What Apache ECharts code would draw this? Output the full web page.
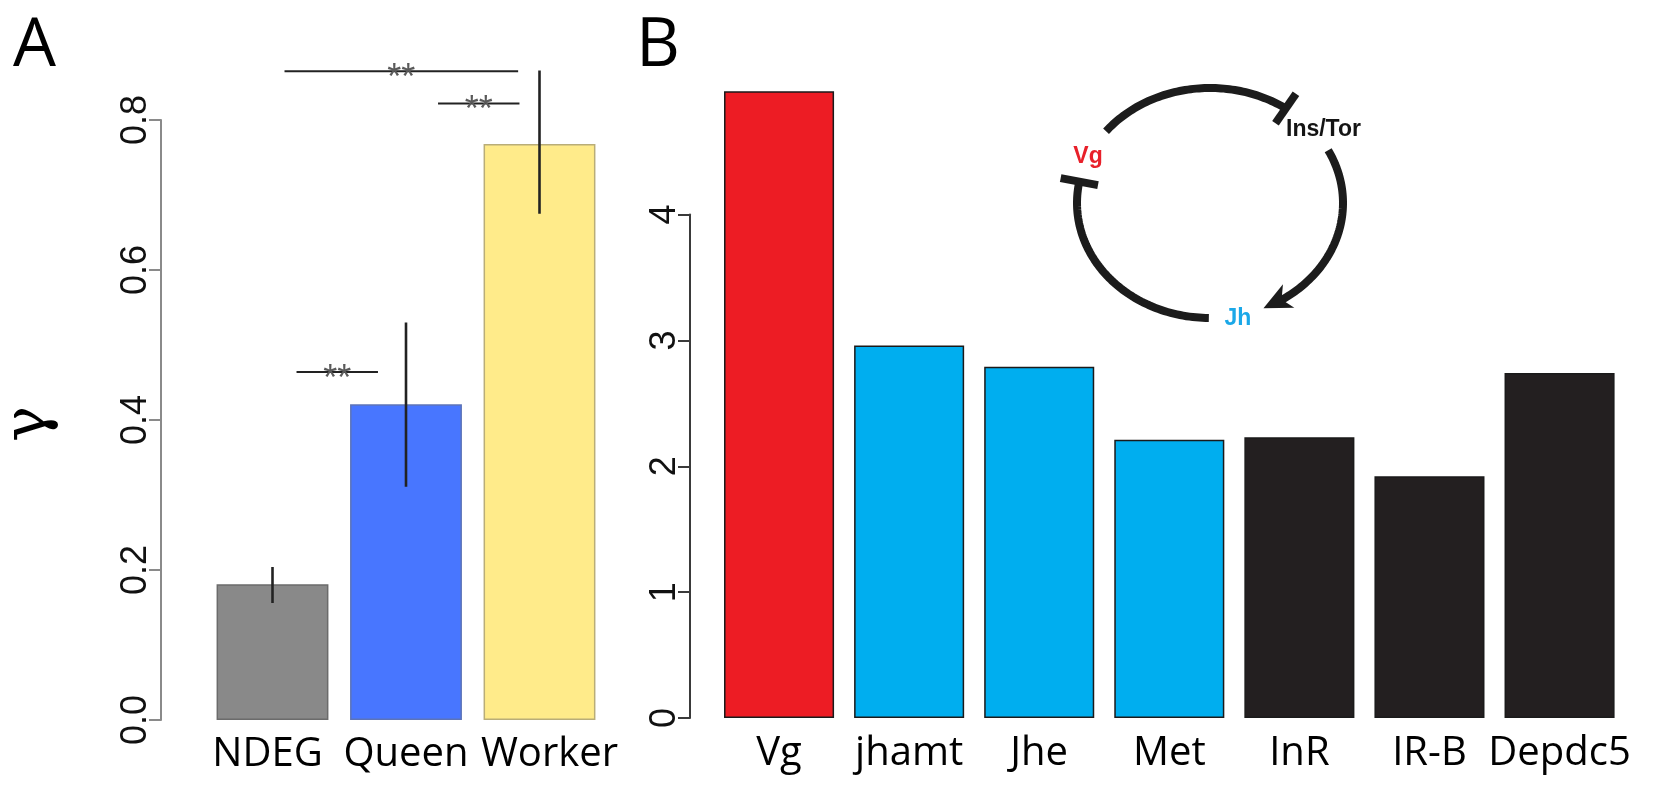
<!DOCTYPE html>
<html>
<head>
<meta charset="utf-8">
<script src="https://cdn.jsdelivr.net/npm/echarts@6/dist/echarts.min.js"></script>
<style>
  html, body { margin: 0; padding: 0; background: #ffffff; }
  #chart { width: 1656px; height: 785px; }
</style>
</head>
<body>
<div id="chart"></div>
<script>
// ---- Panel A: gamma per gene class ----
const groupNames = ['NDEG', 'Queen', 'Worker'];
const gammaMean = [0.181, 0.421, 0.768];
const gammaLow = [0.156, 0.311, 0.675];
const gammaHigh = [0.204, 0.530, 0.866];
const gammaTicks = [0, 0.2, 0.4, 0.6, 0.8];

// pairwise comparisons (span in category units, height on the gamma scale)
const sigFrom = [0.09, 1.24, 0.18];
const sigTo = [1.84, 1.85, 0.79];
const sigLevel = [0.865, 0.822, 0.464];
const sigMark = ['**', '**', '**'];

// ---- Panel B: per-gene values ----
const geneNames = ['Vg', 'jhamt', 'Jhe', 'Met', 'InR', 'IR-B', 'Depdc5'];
const geneValues = [4.98, 2.96, 2.79, 2.21, 2.23, 1.92, 2.74];
const genePathway = ['Vg', 'Jh', 'Jh', 'Jh', 'Ins/Tor', 'Ins/Tor', 'Ins/Tor'];
const geneTicks = [0, 1, 2, 3, 4];

const groupFill = { NDEG: '#898989', Queen: '#4876FF', Worker: '#FFEB8A' };
const groupEdge = { NDEG: '#6b6b6b', Queen: '#5d74b8', Worker: '#b9ad78' };
const pathwayFill = { 'Vg': '#ED1C24', 'Jh': '#00AEEF', 'Ins/Tor': '#231F20' };
const INK = '#1c1c1c';

const LABEL_FONT = "'Open Sans', 'Noto Sans', sans-serif";
const TICK_FONT = "'Liberation Sans', Arial, sans-serif";

// ---- regulatory loop sketch (Vg -| Ins/Tor -> Jh -| Vg) ----
const CX = 1210, CY = 203, RX = 133, RY = 115;
function ringPoint(deg) {
  const t = deg * Math.PI / 180;
  return [CX + RX * Math.cos(t), CY - RY * Math.sin(t)];
}
function ringArc(a0, a1) {
  const pts = [];
  const n = 72;
  for (let i = 0; i <= n; i++) pts.push(ringPoint(a0 + (a1 - a0) * i / n));
  return { type: 'polyline', shape: { points: pts },
           style: { stroke: INK, lineWidth: 8, fill: null, lineCap: 'butt', lineJoin: 'round' } };
}
function ringBar(deg, len) {
  const p = ringPoint(deg), t = deg * Math.PI / 180;
  const ux = Math.cos(t), uy = -Math.sin(t);
  return { type: 'line',
           shape: { x1: p[0] - ux * len / 2, y1: p[1] - uy * len / 2,
                    x2: p[0] + ux * len / 2, y2: p[1] + uy * len / 2 },
           style: { stroke: INK, lineWidth: 8, lineCap: 'butt' } };
}
function ringArrow(tipDeg, backDeg, len, half) {
  const tip = ringPoint(tipDeg), back = ringPoint(backDeg);
  let dx = tip[0] - back[0], dy = tip[1] - back[1];
  const d = Math.hypot(dx, dy); dx /= d; dy /= d;
  const nx = -dy, ny = dx;
  const bx = tip[0] - dx * len, by = tip[1] - dy * len;
  const notch = [tip[0] - dx * len * 0.72, tip[1] - dy * len * 0.72];
  return { type: 'polygon',
           shape: { points: [tip, [bx + nx * half, by + ny * half], notch, [bx - nx * half, by - ny * half]] },
           style: { fill: INK } };
}

const NODE_FONT = "bold 23px 'Liberation Sans', Arial, sans-serif";
const loopGraphics = [
  ringArc(141.4, 55.3), ringBar(55.3, 36),
  ringArc(27.3, -60), ringArrow(-66.3, -55, 28, 13),
  ringArc(-90.5, -190.7), ringBar(-190.7, 38),
  { type: 'text', x: 1088, y: 157,
    style: { text: 'Vg', fill: '#E8202A', font: NODE_FONT, align: 'center', verticalAlign: 'middle' } },
  { type: 'text', x: 1286, y: 130,
    style: { text: 'Ins/Tor', fill: '#141414', font: NODE_FONT, align: 'left', verticalAlign: 'middle' } },
  { type: 'text', x: 1238, y: 319,
    style: { text: 'Jh', fill: '#1BA8E8', font: NODE_FONT, align: 'center', verticalAlign: 'middle' } }
];

const chart = echarts.init(document.getElementById('chart'), null, { renderer: 'canvas' });

function tickAxis(ticks, extra) {
  return Object.assign({
    type: 'value',
    min: ticks[0],
    max: ticks[ticks.length - 1],
    interval: ticks[1] - ticks[0],
    splitLine: { show: false }
  }, extra);
}

const option = {
  animation: false,
  backgroundColor: '#ffffff',
  grid: [
    { left: 205.75, width: 400.5, top: 120, height: 600, outerBoundsMode: 'none' },
    { left: 714, width: 910.6, top: 214.5, height: 503.5, outerBoundsMode: 'none' }
  ],
  xAxis: [
    { gridIndex: 0, type: 'category', data: groupNames,
      axisLine: { show: false }, axisTick: { show: false },
      axisLabel: {
        interval: 0, margin: 15, fontSize: 40, fontFamily: LABEL_FONT, color: '#000',
        // the outer labels sit a little away from their neighbours
        formatter: (v, i) => i === 0 ? '{lead|' + v + '}' : i === 2 ? '{trail|' + v + '}' : v,
        rich: {
          lead: { fontSize: 40, fontFamily: LABEL_FONT, color: '#000', padding: [0, 10, 0, 0] },
          trail: { fontSize: 40, fontFamily: LABEL_FONT, color: '#000', padding: [0, 0, 0, 20] }
        }
      } },
    { gridIndex: 1, type: 'category', data: geneNames,
      axisLine: { show: false }, axisTick: { show: false },
      axisLabel: { interval: 0, margin: 16, fontSize: 40, fontFamily: LABEL_FONT, color: '#000' } }
  ],
  yAxis: [
    tickAxis(gammaTicks, {
      gridIndex: 0, offset: 44.75,
      axisLine: { show: true, lineStyle: { color: '#8a8a8a', width: 2 } },
      axisTick: { show: true, length: 12, lineStyle: { color: '#8a8a8a', width: 2 } },
      axisLabel: { rotate: 90, margin: 7, fontSize: 36, fontFamily: TICK_FONT, color: '#111',
                   showMinLabel: true, showMaxLabel: true,
                   formatter: v => v.toFixed(1) }
    }),
    tickAxis(geneTicks, {
      gridIndex: 1, offset: 24,
      axisLine: { show: true, lineStyle: { color: '#3a3a3a', width: 2 } },
      axisTick: { show: true, length: 12, lineStyle: { color: '#3a3a3a', width: 2 } },
      axisLabel: { rotate: 90, margin: 7, fontSize: 36, fontFamily: TICK_FONT, color: '#111',
                   showMinLabel: true, showMaxLabel: true }
    })
  ],
  series: [
    {
      type: 'bar', xAxisIndex: 0, yAxisIndex: 0, z: 2,
      barCategoryGap: '16.2%',
      data: gammaMean.map((v, i) => ({
        value: v,
        itemStyle: { color: groupFill[groupNames[i]], borderColor: groupEdge[groupNames[i]], borderWidth: 1.5 }
      }))
    },
    {
      type: 'custom', xAxisIndex: 0, yAxisIndex: 0, clip: false, z: 6,
      data: gammaLow.map((lo, i) => [i, lo, gammaHigh[i]]),
      encode: { x: 0, y: [1, 2] },
      renderItem: (params, api) => {
        const a = api.coord([api.value(0), api.value(1)]);
        const b = api.coord([api.value(0), api.value(2)]);
        return { type: 'line', shape: { x1: a[0], y1: a[1], x2: b[0], y2: b[1] },
                 style: { stroke: '#222', lineWidth: 2.6 } };
      }
    },
    {
      type: 'custom', xAxisIndex: 0, yAxisIndex: 0, clip: false, z: 6,
      data: sigLevel.map((y, i) => [0, sigFrom[i], sigTo[i], y]),
      encode: { x: 0, y: 3 },
      renderItem: (params, api) => {
        const y = api.value(3);
        const p0 = api.coord([0, y]);
        const p1 = api.coord([1, y]);
        const step = p1[0] - p0[0];
        const x0 = p0[0] + api.value(1) * step;
        const x1 = p0[0] + api.value(2) * step;
        return {
          type: 'group',
          children: [
            { type: 'line', shape: { x1: x0, y1: p0[1], x2: x1, y2: p0[1] },
              style: { stroke: '#222', lineWidth: 2 } },
            { type: 'text', x: (x0 + x1) / 2, y: p0[1] + 8,
              style: { text: sigMark[params.dataIndex], fill: '#5a5a5a',
                       font: "36px 'Liberation Sans', Arial, sans-serif",
                       align: 'center', verticalAlign: 'middle' } }
          ]
        };
      }
    },
    {
      type: 'bar', xAxisIndex: 1, yAxisIndex: 1, clip: false,
      barCategoryGap: '15.4%',
      data: geneValues.map((v, i) => ({
        value: v,
        itemStyle: { color: pathwayFill[genePathway[i]], borderColor: '#1a1a1a', borderWidth: 1.5 }
      }))
    }
  ],
  graphic: [
    { type: 'text', x: 13, y: 47,
      style: { text: 'A', fill: '#000', font: "68px 'Open Sans', sans-serif", align: 'left', verticalAlign: 'middle' } },
    { type: 'text', x: 636, y: 47,
      style: { text: 'B', fill: '#000', font: "68px 'Open Sans', sans-serif", align: 'left', verticalAlign: 'middle' } },
    { type: 'text', x: 30, y: 424, rotation: Math.PI / 2,
      style: { text: 'γ', fill: '#000', font: "60px 'DejaVu Serif', 'Liberation Serif', serif",
               align: 'center', verticalAlign: 'middle' } }
  ].concat(loopGraphics)
};

chart.setOption(option);
</script>
</body>
</html>
